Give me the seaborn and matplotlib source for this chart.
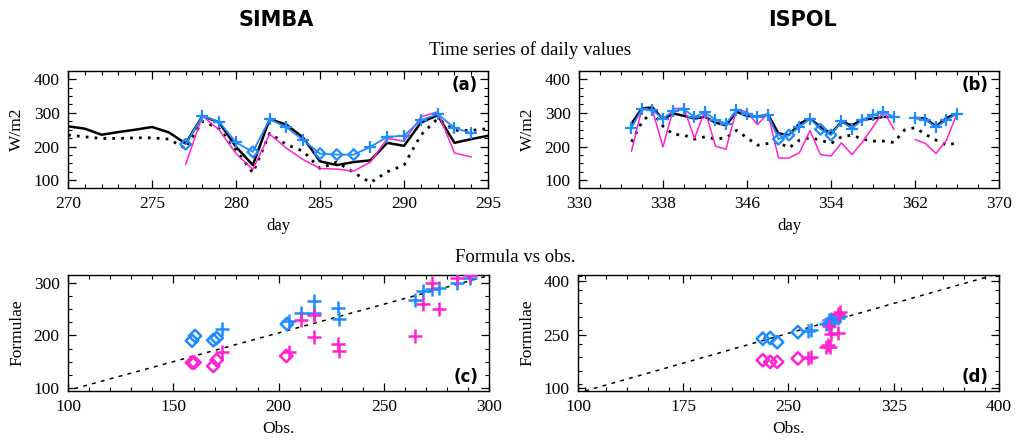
import numpy as np
import pandas as pd
import matplotlib
matplotlib.use('Agg')
import matplotlib.pyplot as plt
from matplotlib.ticker import MultipleLocator, FixedLocator
import seaborn as sns

# ---- data ----
days_a = list(range(270, 296))
obs_a = [260, 253, 235, 243, 250, 258, 242, 209, 291, 271, 199, 145, 281, 265,
         226, 156, 145, 154, 159, 211, 202, 271, 293, 211, 222, 232]
ref_a = [234, 229, 224, 224, 226, 226, 222, 194, 275, 253, 189, 122, 239, 206,
         186, 135, 154, 123, 93, 125, 145, 234, 283, 248, 248, 253]
days_a2 = list(range(277, 295))
mag_a = [147, 291, 249, 179, 132, 237, 195, 161, 135, 133, 127, 154, 224, 216,
         288, 303, 181, 169]
blue_a = [207, 291, 273, 212, 184, 281, 257, 219, 179, 176, 176, 199, 229, 232,
          278, 296, 256, 239]
diam_days_a = [277, 281, 285, 286, 287]

days_b = list(range(335, 367))
obs_b = [268, 313, 316, 281, 298, 291, 283, 288, 271, 263, 303, 291, 288, 295,
         239, 234, 268, 283, 258, 239, 273, 263, 280, 283, 288, 288, np.nan,
         285, 283, 260, 285, 298]
blue_b = [256, 311, 308, 283, 306, 310, 288, 301, 280, 268, 308, 298, 288, 295,
          222, 234, 258, 283, 251, 234, 275, 253, 280, 293, 303, 288, np.nan,
          286, 278, 258, 278, 298]
mag_b = [186, 313, 308, 199, 313, 313, 224, 308, 201, 192, 310, 303, 265, 298,
         166, 166, 182, 247, 176, 172, 211, 176, 214, 258, 305, 251, np.nan,
         221, 209, 179, 219, 298]
ref_b = [214, 273, 303, 260, 236, 234, 222, 229, 222, 226, 248, 226, 204, 209,
         212, 196, 219, 226, 219, 209, 229, 234, 222, 216, 216, 212, 249, 256,
         236, 219, 204, 211]
diam_days_b = [349, 350, 353, 354]

# scatter (c)
c_obs_d = [158.9, 160.3, 169.0, 170.6, 204.0]
c_blue_d = [190, 199, 191, 195, 222]
c_mag_obs_d = [158.9, 160.0, 169.0, 170.6, 203.7]
c_mag_d = [148, 148, 141.5, 153, 160.7]
c_obs_p = [173, 205, 210.8, 216.7, 216.7, 228, 228.6, 264.8, 268.7, 272.7,
           276.3, 285, 291]
c_blue_p = [212.5, 228, 243.8, 266.8, 242.5, 253, 231.6, 268, 285, 289, 292,
            300, 311]
c_mag_p = [167.7, 169, 229.7, 239, 196.5, 183.7, 171, 199, 259.7, 300, 250,
           309.6, 316]
c_line_x = [103, 300]
c_line_y = [98, 315]

# scatter (d)
d_obs_d = [231.7, 237.0, 241.9, 256.7]
d_blue_d = [238.6, 240.5, 229, 256.7]
d_mag_d = [178.8, 174, 174, 183.6]
d_obs_bp = [263.8, 266, 277, 278, 278.8, 279.8, 280.5, 282, 285, 286.4]
d_blue_p = [261.4, 264, 278.5, 283, 290, 283, 294.7, 287, 297.5, 302.3]
d_obs_mp = [263.8, 266, 276.4, 278, 279, 279.8, 280.5, 285, 285, 286.4]
d_mag_p = [183.6, 188, 216.8, 221.6, 273.8, 216.8, 252, 254.8, 307, 311.8]
d_line_x = [105, 400]
d_line_y = [93, 420]

ticks_b = [330, 338, 346, 354, 362, 370]
ticks_d_x = [100, 175, 250, 325, 400]
ticks_d_y = [100, 250, 400]

BLUE = '#1c8cff'
MAG = '#ff22d0'

sns.set_theme(style='ticks')
plt.rcParams['font.family'] = ['Liberation Serif', 'DejaVu Serif']
plt.rcParams['text.color'] = 'black'
plt.rcParams['axes.labelcolor'] = 'black'
plt.rcParams['xtick.color'] = 'black'
plt.rcParams['ytick.color'] = 'black'

fig = plt.figure(figsize=(10.17, 4.47), dpi=100)
ax_a = fig.add_axes([0.0669, 0.5794, 0.413, 0.2617])
ax_b = fig.add_axes([0.5693, 0.5794, 0.413, 0.2617])
ax_c = fig.add_axes([0.0669, 0.1253, 0.414, 0.2595])
ax_d = fig.add_axes([0.5683, 0.1253, 0.414, 0.2595])

dotted = (0, (1.0, 2.2))


def style_axis(ax, label, loc):
    for s in ax.spines.values():
        s.set_color('black')
        s.set_linewidth(1.0)
    ax.tick_params(which='both', top=True, right=True, direction='in',
                   labelsize=12.5, colors='black', pad=6)
    ax.tick_params(which='major', length=6, width=0.9)
    ax.tick_params(which='minor', length=3, width=0.8)
    for t in ax.get_xticklabels() + ax.get_yticklabels():
        t.set_fontfamily('Liberation Serif')
    yy = 0.88 if loc == 'top' else 0.12
    ax.text(0.975, yy, label, transform=ax.transAxes, ha='right', va='center',
            fontsize=12, fontweight='bold', family='DejaVu Sans', color='black')


# ---- (a) time series SIMBA ----
dfa = pd.DataFrame({'day': days_a, 'obs': obs_a, 'ref': ref_a})
dfa2 = pd.DataFrame({'day': days_a2, 'mag': mag_a, 'blue': blue_a})
sns.lineplot(data=dfa, x='day', y='ref', ax=ax_a, color='black', lw=2.0,
             linestyle=dotted)
sns.lineplot(data=dfa, x='day', y='obs', ax=ax_a, color='black', lw=1.8)
sns.lineplot(data=dfa2, x='day', y='mag', ax=ax_a, color=MAG, lw=1.1)
sns.lineplot(data=dfa2, x='day', y='blue', ax=ax_a, color=BLUE, lw=1.3)
isd = dfa2['day'].isin(diam_days_a)
sns.scatterplot(data=dfa2[~isd], x='day', y='blue', ax=ax_a, marker='+',
                color=BLUE, s=80, linewidth=1.6, zorder=5)
sns.scatterplot(data=dfa2[isd], x='day', y='blue', ax=ax_a, marker='D',
                facecolor='none', edgecolor=BLUE, s=30, linewidth=1.6, zorder=5)
ax_a.set_xlim(270, 295)
ax_a.set_ylim(77, 424)
ax_a.xaxis.set_major_locator(MultipleLocator(5))
ax_a.xaxis.set_minor_locator(MultipleLocator(1))
ax_a.yaxis.set_major_locator(MultipleLocator(100))
ax_a.yaxis.set_minor_locator(MultipleLocator(25))
ax_a.set_xlabel('day', fontsize=12, labelpad=4)
ax_a.set_ylabel('W/m2', fontsize=12.5, labelpad=6)
style_axis(ax_a, '(a)', 'top')

# ---- (b) time series ISPOL ----
dfb = pd.DataFrame({'day': days_b, 'obs': obs_b, 'blue': blue_b, 'mag': mag_b,
                    'ref': ref_b})
sns.lineplot(data=dfb, x='day', y='ref', ax=ax_b, color='black', lw=2.0,
             linestyle=dotted)
for seg in [dfb[dfb['day'] <= 360], dfb[dfb['day'] >= 362]]:
    sns.lineplot(data=seg, x='day', y='obs', ax=ax_b, color='black', lw=1.8)
    sns.lineplot(data=seg, x='day', y='mag', ax=ax_b, color=MAG, lw=1.1)
    sns.lineplot(data=seg, x='day', y='blue', ax=ax_b, color=BLUE, lw=1.3)
dfb_pts = dfb.dropna(subset=['blue'])
isd = dfb_pts['day'].isin(diam_days_b)
sns.scatterplot(data=dfb_pts[~isd], x='day', y='blue', ax=ax_b, marker='+',
                color=BLUE, s=80, linewidth=1.6, zorder=5)
sns.scatterplot(data=dfb_pts[isd], x='day', y='blue', ax=ax_b, marker='D',
                facecolor='none', edgecolor=BLUE, s=30, linewidth=1.6, zorder=5)
ax_b.set_xlim(330, 370)
ax_b.set_ylim(77, 424)
ax_b.xaxis.set_major_locator(FixedLocator(ticks_b))
ax_b.xaxis.set_minor_locator(MultipleLocator(2))
ax_b.yaxis.set_major_locator(MultipleLocator(100))
ax_b.yaxis.set_minor_locator(MultipleLocator(25))
ax_b.set_xlabel('day', fontsize=12, labelpad=4)
ax_b.set_ylabel('W/m2', fontsize=12.5, labelpad=6)
style_axis(ax_b, '(b)', 'top')


# ---- scatter panels ----
def scatter_panel(ax, obs_d, blue_d, mag_obs_d, mag_d, obs_bp, blue_p, obs_mp,
                  mag_p, lx, ly):
    sns.lineplot(x=lx, y=ly, ax=ax, color='black', lw=1.1,
                 linestyle=(0, (2.5, 3.5)))
    sns.scatterplot(x=obs_d, y=blue_d, ax=ax, marker='D', facecolor='none',
                    edgecolor=BLUE, s=40, linewidth=1.8, zorder=5)
    sns.scatterplot(x=mag_obs_d, y=mag_d, ax=ax, marker='D', facecolor='none',
                    edgecolor=MAG, s=40, linewidth=1.8, zorder=5)
    sns.scatterplot(x=obs_bp, y=blue_p, ax=ax, marker='+', color=BLUE, s=100,
                    linewidth=1.8, zorder=5)
    sns.scatterplot(x=obs_mp, y=mag_p, ax=ax, marker='+', color=MAG, s=100,
                    linewidth=1.8, zorder=5)


scatter_panel(ax_c, c_obs_d, c_blue_d, c_mag_obs_d, c_mag_d, c_obs_p, c_blue_p,
              c_obs_p, c_mag_p, c_line_x, c_line_y)
ax_c.set_xlim(100, 300)
ax_c.set_ylim(93.5, 316)
ax_c.xaxis.set_major_locator(MultipleLocator(50))
ax_c.xaxis.set_minor_locator(MultipleLocator(10))
ax_c.yaxis.set_major_locator(MultipleLocator(100))
ax_c.yaxis.set_minor_locator(MultipleLocator(25))
ax_c.set_xlabel('Obs.', fontsize=12.5, labelpad=4)
ax_c.set_ylabel('Formulae', fontsize=12.5, labelpad=6)
style_axis(ax_c, '(c)', 'bottom')

scatter_panel(ax_d, d_obs_d, d_blue_d, d_obs_d, d_mag_d, d_obs_bp, d_blue_p,
              d_obs_mp, d_mag_p, d_line_x, d_line_y)
ax_d.set_xlim(100, 400)
ax_d.set_ylim(93, 416)
ax_d.xaxis.set_major_locator(FixedLocator(ticks_d_x))
ax_d.xaxis.set_minor_locator(MultipleLocator(15))
ax_d.yaxis.set_major_locator(FixedLocator(ticks_d_y))
ax_d.yaxis.set_minor_locator(MultipleLocator(37.5))
ax_d.set_xlabel('Obs.', fontsize=12.5, labelpad=4)
ax_d.set_ylabel('Formulae', fontsize=12.5, labelpad=6)
style_axis(ax_d, '(d)', 'bottom')

# ---- titles ----
fig.text(276 / 1017, 1 - 20 / 447, 'SIMBA', ha='center', va='center',
         fontsize=15, fontweight='bold', family='DejaVu Sans')
fig.text(803 / 1017, 1 - 20 / 447, 'ISPOL', ha='center', va='center',
         fontsize=15, fontweight='bold', family='DejaVu Sans')
fig.text(530 / 1017, 1 - 50 / 447, 'Time series of daily values', ha='center',
         va='center', fontsize=13.5)
fig.text(515 / 1017, 1 - 257 / 447, 'Formula vs obs.', ha='center',
         va='center', fontsize=13.5)

fig.savefig('out.png', dpi=100, facecolor='white')
